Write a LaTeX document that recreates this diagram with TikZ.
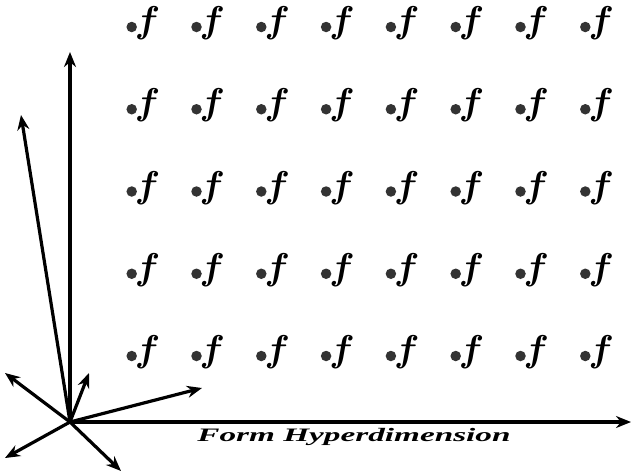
\documentclass[tikz,border=0pt]{standalone}
\usepackage{fontspec}
\setmainfont{Liberation Serif}
\usetikzlibrary{arrows.meta}
\begin{document}
\begin{tikzpicture}[x=1pt,y=-1pt,
  vec/.style={line width=3.2pt,-{Stealth[length=15pt,width=12pt]}},
  dotmark/.style={circle,fill=black!80,inner sep=0pt,minimum size=10.5pt},
  flabel/.style={anchor=base west,inner sep=0pt}]
\useasboundingbox (0,0) rectangle (631,474);
\coordinate (O) at (70,422);
\coordinate (up) at (70,52);
\coordinate (tilt) at (21,115);
\coordinate (right) at (631,422);
\coordinate (sur) at (89,373);
\coordinate (sul) at (5,373);
\coordinate (sr) at (202,388);
\coordinate (sdl) at (5,458);
\coordinate (sdr) at (121,471);
\foreach \e in {up,tilt,right,sur,sul,sr,sdl,sdr}
  \draw[vec] (O) -- (\e);
\foreach \i [count=\ci] in {0,...,7} {
  \foreach \j [count=\cj] in {0,...,4} {
    \pgfmathsetmacro{\bx}{131.7+64.8*\i}
    \pgfmathsetmacro{\by}{27+82.25*\j}
    \node[dotmark] (d\ci\cj) at (\bx,\by) {};
    \node[flabel] (f\ci\cj) at (\bx+3,\by+5.5) {\scalebox{1.5}{\fontsize{24.88}{28}\selectfont\boldmath$f$}};
  }
}
\node[inner sep=0pt] (lab) at (354,437) {\scalebox{1.75}[1]{\fontsize{19}{22}\selectfont\bfseries\itshape Form Hyperdimension}};
\end{tikzpicture}
\end{document}
